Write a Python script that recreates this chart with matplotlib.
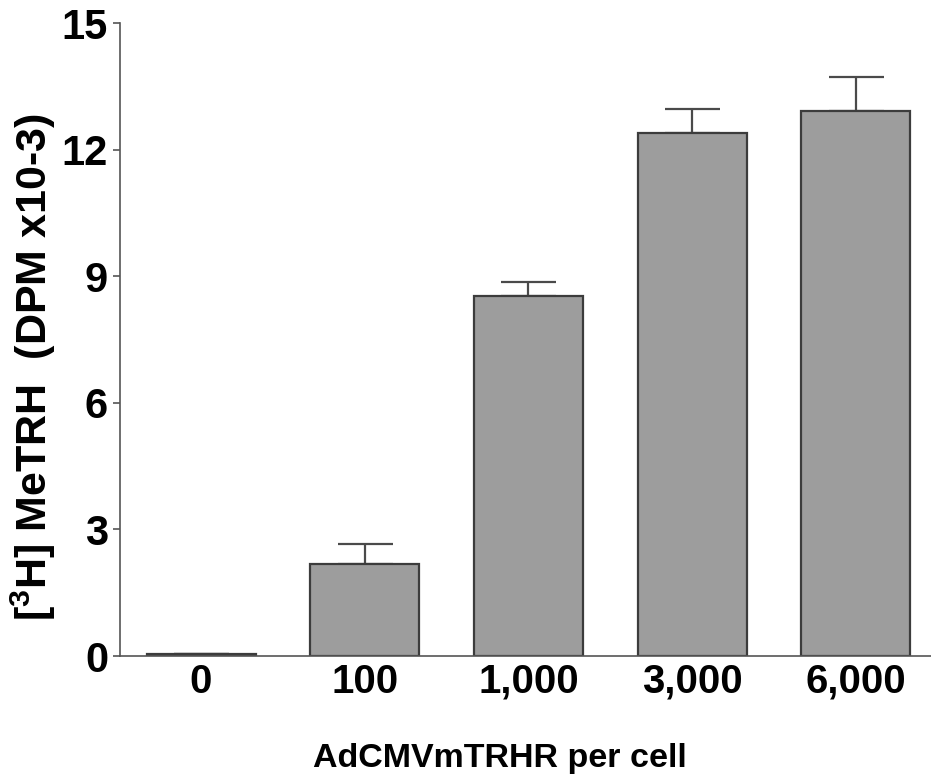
import matplotlib
matplotlib.use("Agg")
import matplotlib.pyplot as plt
import numpy as np

categories = ["0", "100", "1,000", "3,000", "6,000"]
values = [0.04, 2.19, 8.53, 12.41, 12.93]
errors = [0.0, 0.46, 0.33, 0.57, 0.80]
yticks = [0, 3, 6, 9, 12, 15]

plt.rcParams['font.family'] = ['Liberation Sans', 'DejaVu Sans']
plt.rcParams['font.weight'] = 'bold'
plt.rcParams['mathtext.fontset'] = 'custom'
plt.rcParams['mathtext.rm'] = 'Liberation Sans:bold'
plt.rcParams['mathtext.bf'] = 'Liberation Sans:bold'
plt.rcParams['mathtext.it'] = 'Liberation Sans:bold'
plt.rcParams['mathtext.default'] = 'rm'

fig = plt.figure(figsize=(9.31, 7.82), dpi=100)
ax = fig.add_axes([120/931, 1-656/782, 1-120/931, (656-23.3)/782])

x = np.arange(len(categories))
ax.bar(x, values, width=0.666, color='#9d9d9d', edgecolor='#3c3c3c', linewidth=1.6, zorder=2)
ax.errorbar(x, values, yerr=[np.zeros(len(errors)), errors], fmt='none',
            ecolor='#4a4a4a', elinewidth=1.6, capsize=19.8, capthick=1.6, zorder=1)

ax.set_xlim(-0.495, 4.46)
ax.set_ylim(0, 15)
ax.set_yticks(yticks)
ax.set_xticks(x)
ax.set_xticklabels(categories)

for s in ['top', 'right']:
    ax.spines[s].set_visible(False)
for s in ['left', 'bottom']:
    ax.spines[s].set_color('#555555')
    ax.spines[s].set_linewidth(1.2)

ax.tick_params(axis='y', direction='out', length=5, width=1.2, color='#555555',
               pad=3.6, labelsize=30)
ax.tick_params(axis='x', length=0, pad=5, labelsize=29)
for lab in ax.get_xticklabels() + ax.get_yticklabels():
    lab.set_fontweight('bold')

ax.set_ylabel(r'[$^{3}$H] MeTRH  (DPM x10-3)', fontsize=31, fontweight='bold')
ax.yaxis.set_label_coords(-0.076, 0.456)
fig.text(500/931, 1-767/782, 'AdCMVmTRHR per cell', ha='center', va='baseline',
         fontsize=24.5, fontweight='bold')

fig.savefig('out.png', dpi=100)
